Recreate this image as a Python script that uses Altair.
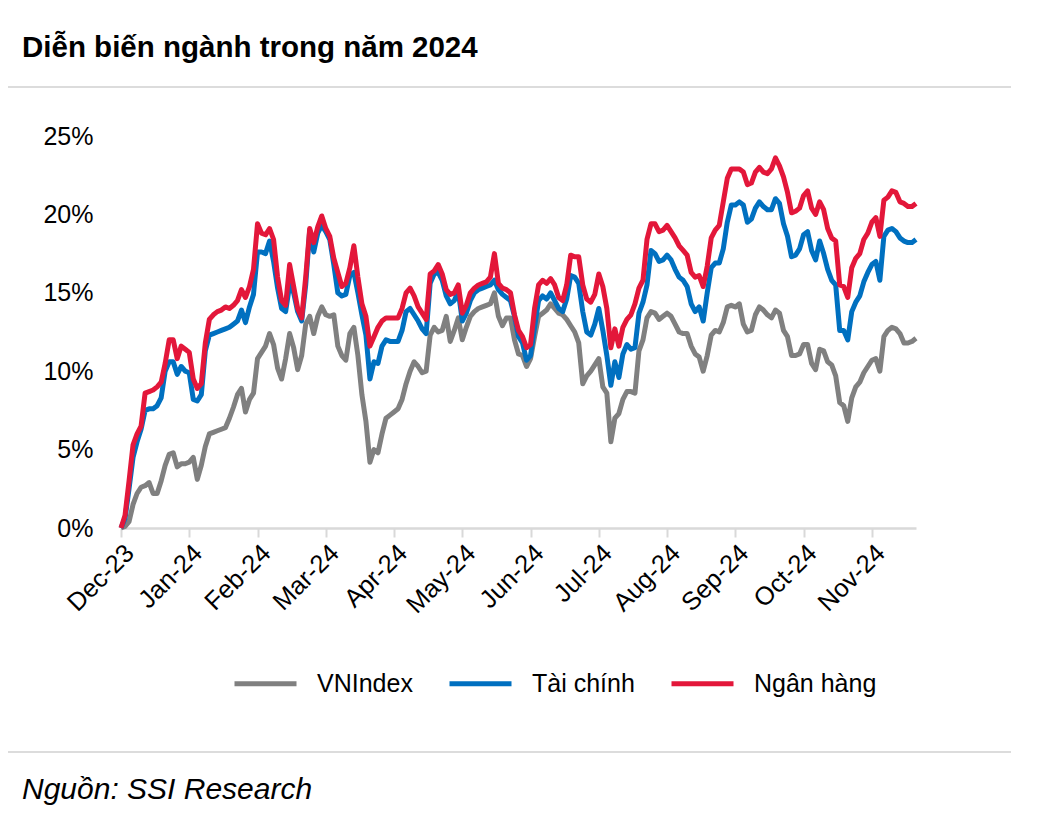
import json
import altair as alt
import pandas as pd

# ---------------- data ----------------
months = ["Dec-23", "Jan-24", "Feb-24", "Mar-24", "Apr-24", "May-24",
          "Jun-24", "Jul-24", "Aug-24", "Sep-24", "Oct-24", "Nov-24"]
points_per_month = 17  # sampled points between two month ticks

vnindex = [
    0.0, 0.1, 0.4, 1.5, 2.2, 2.6, 2.7, 2.9, 2.2, 2.2, 3.0, 4.0, 4.7, 4.8, 3.9, 4.1, 4.1,
    4.2, 4.5, 3.1, 4.0, 5.2, 6.0, 6.1, 6.2, 6.3, 6.4, 7.0, 7.7, 8.5, 8.9, 7.4, 8.2, 8.6,
    10.8, 11.2, 11.6, 12.4, 11.7, 10.2, 9.5, 10.8, 12.4, 11.5, 10.1, 11.0, 13.0, 13.5, 12.4, 13.5, 14.1,
    13.6, 13.5, 13.6, 11.6, 11.0, 10.7, 12.4, 12.8, 11.0, 8.5, 6.8, 4.2, 5.0, 4.8, 6.0, 7.0, 7.2,
    7.4, 7.6, 8.2, 9.2, 10.0, 10.6, 10.3, 9.9, 10.0, 12.3, 12.8, 12.5, 12.6, 13.5, 11.9, 12.6, 13.4,
    12.0, 12.8, 13.5, 13.8, 14.0, 14.1, 14.2, 14.3, 15.0, 13.5, 12.9, 13.4, 13.4, 12.0, 11.1, 11.0, 10.3,
    10.8, 12.2, 13.5, 13.7, 13.9, 14.3, 14.0, 13.7, 13.6, 13.3, 12.9, 12.5, 11.8, 9.2, 9.7, 10.0, 10.4,
    10.8, 9.0, 8.6, 5.5, 7.0, 7.3, 8.2, 8.7, 8.7, 8.6, 11.3, 12.0, 13.4, 13.8, 13.7, 13.3, 13.5,
    13.7, 13.5, 13.0, 12.5, 12.4, 12.4, 11.6, 11.1, 10.9, 10.0, 11.0, 12.3, 12.6, 12.5, 13.1, 14.1, 14.2,
    14.1, 14.3, 13.0, 12.5, 12.6, 13.6, 14.1, 13.9, 13.6, 13.4, 13.9, 13.7, 12.6, 12.2, 11.0, 11.0, 11.1,
    11.7, 11.7, 10.5, 10.1, 11.4, 11.3, 10.6, 10.4, 9.7, 8.0, 7.8, 6.8, 8.3, 9.0, 9.3, 9.9, 10.3,
    10.7, 10.8, 10.0, 12.2, 12.6, 12.8, 12.7, 12.4, 11.8, 11.8, 11.9, 12.1,
]

tai_chinh = [
    0.0, 0.6, 2.5, 4.5, 5.5, 6.3, 7.5, 7.6, 7.6, 7.8, 8.3, 10.0, 10.6, 10.6, 9.8, 10.3, 10.0,
    9.9, 8.2, 8.1, 8.5, 11.3, 12.3, 12.4, 12.5, 12.6, 12.7, 12.8, 13.0, 13.2, 13.9, 13.1, 14.1, 14.9,
    17.6, 17.6, 17.5, 18.3, 17.0, 15.3, 14.0, 13.8, 15.5, 15.0, 13.8, 13.2, 15.5, 19.0, 17.6, 18.8, 19.3,
    18.9, 18.4, 16.8, 15.0, 14.8, 14.9, 16.1, 16.3, 15.0, 13.6, 12.3, 9.5, 10.6, 10.5, 11.6, 12.0, 11.9,
    11.9, 11.9, 12.6, 13.8, 14.0, 13.6, 13.2, 12.7, 12.4, 15.6, 16.2, 16.3, 15.8, 14.8, 14.3, 14.5, 15.1,
    13.2, 13.7, 14.5, 15.0, 15.2, 15.3, 15.4, 15.5, 15.8, 15.2, 14.9, 14.7, 14.5, 13.5, 12.2, 11.8, 10.7,
    11.0, 12.8, 14.5, 14.8, 14.6, 15.0, 14.5, 14.0, 13.8, 14.6, 16.1, 16.0, 15.6, 13.8, 12.5, 12.3, 13.0,
    14.0, 12.6, 11.0, 9.1, 10.6, 9.6, 11.1, 11.7, 11.4, 11.5, 13.7, 14.4, 15.5, 17.7, 17.5, 17.0, 17.1,
    17.4, 17.1, 16.5, 16.0, 15.8, 15.4, 14.3, 13.8, 14.1, 13.2, 15.0, 16.6, 16.9, 16.9, 17.8, 19.5, 20.6,
    20.6, 20.8, 20.6, 19.5, 19.7, 20.4, 20.8, 20.5, 20.3, 20.3, 21.0, 20.7, 19.4, 18.6, 17.3, 17.4, 17.8,
    18.7, 18.9, 17.7, 17.1, 18.3, 17.5, 16.5, 15.8, 15.5, 12.6, 12.6, 12.0, 13.8, 14.4, 14.8, 15.7, 16.3,
    16.8, 17.0, 15.8, 18.6, 19.0, 19.1, 18.9, 18.5, 18.3, 18.2, 18.2, 18.4,
]

ngan_hang = [
    0.0, 0.8, 3.0, 5.3, 6.0, 6.5, 8.6, 8.7, 8.8, 9.0, 9.3, 10.5, 12.0, 12.0, 10.8, 11.6, 11.4,
    11.2, 9.5, 8.9, 9.2, 11.8, 13.3, 13.6, 13.8, 13.9, 14.1, 14.0, 14.2, 14.5, 15.2, 14.7, 15.4, 16.5,
    19.4, 18.8, 18.7, 19.1, 18.4, 16.0, 14.5, 14.2, 16.8, 15.4, 14.0, 13.4, 16.0, 19.1, 18.2, 19.2, 19.9,
    19.1, 18.6, 17.2, 16.3, 15.4, 15.6, 16.6, 18.0, 16.0, 14.3, 13.5, 11.6, 12.2, 12.8, 13.2, 13.4, 13.4,
    13.4, 13.4, 14.0, 15.0, 15.3, 14.8, 14.1, 13.7, 13.3, 16.2, 16.4, 16.8, 16.2, 15.2, 14.9, 15.0, 15.5,
    13.7, 14.2, 15.0, 15.3, 15.5, 15.6, 15.7, 16.0, 17.5, 15.6, 15.3, 15.2, 15.0, 13.6, 12.6, 12.2, 11.5,
    11.7, 14.0, 15.5, 15.8, 15.6, 15.9, 15.5, 14.7, 14.5, 15.5, 17.4, 17.3, 17.3, 15.5, 14.6, 14.4, 14.9,
    16.2, 15.4, 14.0, 11.5, 12.7, 11.6, 12.8, 13.3, 13.6, 14.3, 15.3, 15.8, 18.4, 19.4, 19.4, 18.9, 19.0,
    19.3, 18.9, 18.5, 18.0, 17.7, 17.4, 16.3, 16.0, 16.1, 15.4, 16.7, 18.5, 19.0, 19.3, 20.8, 22.3, 22.9,
    22.9, 22.9, 22.7, 21.9, 22.0, 22.7, 23.0, 22.7, 22.6, 22.9, 23.6, 23.1, 22.4, 21.4, 20.1, 20.2, 20.4,
    21.2, 21.5, 20.4, 20.0, 20.8, 20.3, 19.1, 18.5, 18.3, 15.5, 15.4, 14.7, 16.6, 17.2, 17.5, 18.4, 18.8,
    19.5, 19.8, 18.6, 20.9, 21.1, 21.5, 21.4, 20.8, 20.7, 20.5, 20.5, 20.7,
]

series_names = ["VNIndex", "Tài chính", "Ngân hàng"]
series_colors = ["#808080", "#0070C0", "#E3173A"]
y_ticks = [0, 5, 10, 15, 20, 25]
title_text = "Diễn biến ngành trong năm 2024"
source_text = "Nguồn: SSI Research"

# ---------------- build table ----------------
rows = []
for name, vals in zip(series_names, [vnindex, tai_chinh, ngan_hang]):
    for i, v in enumerate(vals):
        rows.append({"day": i, "value": v, "series": name})
df = pd.DataFrame(rows)

x_tick_values = [k * points_per_month for k in range(len(months))]
x_label_expr = f"{json.dumps(months)}[round(datum.value / {points_per_month})]"

FONT = "Liberation Sans, Arial, sans-serif"

base = alt.Chart(df).encode(
    x=alt.X(
        "day:Q",
        scale=alt.Scale(domain=[0, len(vnindex) - 1], nice=False, zero=False),
        axis=alt.Axis(
            values=x_tick_values, labelExpr=x_label_expr, title=None,
            labelAngle=-45, labelAlign="right", labelBaseline="top",
            grid=False, domainColor="#d9d9d9", domainWidth=2.5,
            tickColor="#d9d9d9", tickWidth=2, tickSize=9,
            labelFont=FONT, labelFontSize=25.5, labelColor="black",
            labelPadding=3, labelOverlap=False, labelFlush=False,
        ),
    ),
    y=alt.Y(
        "value:Q",
        scale=alt.Scale(domain=[0, 25], nice=False),
        axis=alt.Axis(
            values=y_ticks, labelExpr="datum.value + '%'", title=None,
            domain=False, ticks=False, grid=False,
            labelFont=FONT, labelFontSize=25, labelColor="black", labelPadding=28,
        ),
    ),
    color=alt.Color(
        "series:N",
        scale=alt.Scale(domain=series_names, range=series_colors),
        legend=alt.Legend(
            title=None, orient="none", legendX=111, legendY=514,
            direction="horizontal", symbolType="stroke", symbolSize=3844,
            symbolStrokeWidth=5, labelFont=FONT, labelFontSize=25,
            labelColor="black", labelOffset=18, columnPadding=26,
        ),
    ),
)

lines = [
    base.transform_filter(alt.datum.series == name).mark_line(strokeWidth=5, strokeJoin="round")
    for name in series_names
]

one = pd.DataFrame({"t": [title_text]})
title = alt.Chart(one).mark_text(
    align="left", baseline="middle", font=FONT, fontSize=29.5, fontWeight="bold", color="black"
).encode(x=alt.value(-99), y=alt.value(-88), text="t:N")

src = alt.Chart(pd.DataFrame({"t": [source_text]})).mark_text(
    align="left", baseline="middle", font=FONT, fontSize=30, fontStyle="italic", color="black"
).encode(x=alt.value(-99), y=alt.value(654), text="t:N")

sep_top = alt.Chart(one).mark_rule(color="#d0d0d0", strokeWidth=1.5).encode(
    x=alt.value(-113), x2=alt.value(890), y=alt.value(-49))
sep_bot = alt.Chart(one).mark_rule(color="#d0d0d0", strokeWidth=1.5).encode(
    x=alt.value(-113), x2=alt.value(890), y=alt.value(616))

chart = alt.layer(*lines, title, src, sep_top, sep_bot).properties(
    width=795, height=392,
    padding={"left": 113, "top": 128, "right": 100, "bottom": 290},
    autosize=alt.AutoSizeParams(type="none"),
).configure_view(strokeWidth=0)

chart.save("out.html", embed_options={"renderer": "svg", "actions": False})
